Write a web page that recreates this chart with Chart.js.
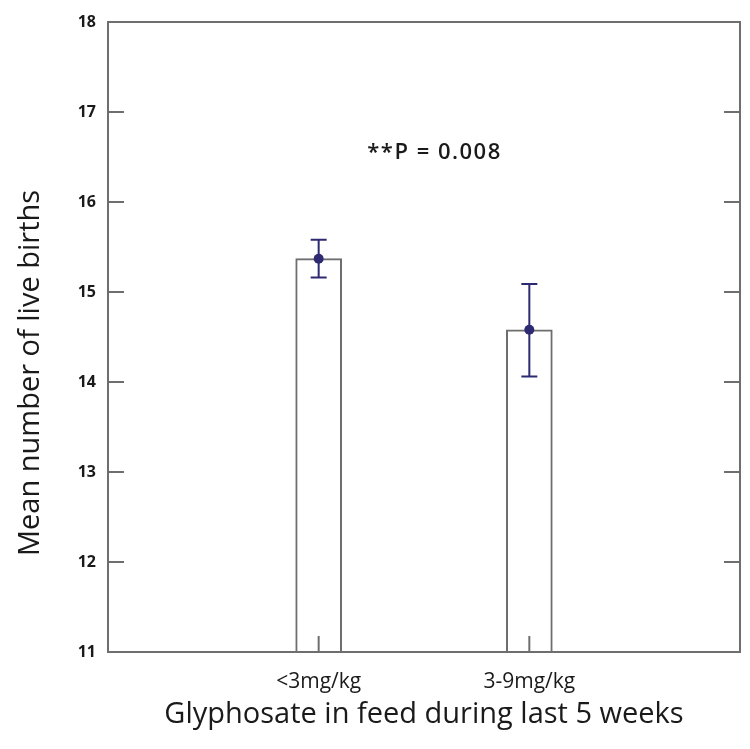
<!DOCTYPE html>
<html>
<head>
<meta charset="utf-8">
<script src="https://cdn.jsdelivr.net/npm/chart.js@4"></script>
<style>
  html, body { margin: 0; padding: 0; background: #fff; }
  #wrap { width: 750px; height: 749px; }
</style>
</head>
<body>
<div id="wrap"><canvas id="births"></canvas></div>
<script>
/* ---------------- DATA ---------------- */
const groups = ["", "<3mg/kg", "3-9mg/kg", ""];
const means = [null, 15.37, 14.58, null];
const errLow = [null, 15.16, 14.06, null];
const errHigh = [null, 15.58, 15.09, null];
const yTicks = [11, 12, 13, 14, 15, 16, 17, 18];
const pText = "**P = 0.008";

const AXIS = "#6e6e6e";
const ERR = "#2d2a72";
const INK = "#1a1a1a";
const FONT = "'Open Sans', Lato, sans-serif";

/* ---------------- FRAME, TICKS, ERROR BARS ---------------- */
const extras = {
  id: "extras",
  afterDatasetsDraw(chart) {
    const { ctx, chartArea: a, scales: { x, y } } = chart;
    ctx.save();

    // box round the plot
    ctx.strokeStyle = AXIS;
    ctx.lineWidth = 2;
    ctx.strokeRect(a.left, a.top, a.right - a.left, a.bottom - a.top);

    // inward tick marks, both sides
    yTicks.forEach(v => {
      const py = y.getPixelForValue(v);
      ctx.beginPath();
      ctx.moveTo(a.left, py); ctx.lineTo(a.left + 16, py);
      ctx.moveTo(a.right, py); ctx.lineTo(a.right - 16, py);
      ctx.stroke();
    });
    groups.forEach((g, i) => {
      if (!g) return;
      const px = x.getPixelForValue(i);
      ctx.beginPath();
      ctx.moveTo(px, a.bottom); ctx.lineTo(px, a.bottom - 16);
      ctx.stroke();
    });

    // error bars
    ctx.strokeStyle = ERR;
    ctx.fillStyle = ERR;
    ctx.lineWidth = 2;
    means.forEach((m, i) => {
      if (m == null) return;
      const px = x.getPixelForValue(i);
      const lo = y.getPixelForValue(errLow[i]);
      const hi = y.getPixelForValue(errHigh[i]);
      ctx.beginPath();
      ctx.moveTo(px, lo); ctx.lineTo(px, hi);
      ctx.moveTo(px - 8, lo); ctx.lineTo(px + 8, lo);
      ctx.moveTo(px - 8, hi); ctx.lineTo(px + 8, hi);
      ctx.stroke();
      ctx.beginPath();
      ctx.arc(px, y.getPixelForValue(m), 5, 0, Math.PI * 2);
      ctx.fill();
    });

    // p value note
    ctx.fillStyle = INK;
    ctx.font = "600 22px " + FONT;
    ctx.textAlign = "center";
    ctx.textBaseline = "middle";
    ctx.letterSpacing = "1.5px";
    ctx.fillText(pText, x.getPixelForValue(1.55), y.getPixelForValue(16.55));
    ctx.letterSpacing = "0px";

    // y axis title
    ctx.translate(31, 373);
    ctx.rotate(-Math.PI / 2);
    ctx.font = "29px " + FONT;
    ctx.fillText("Mean number of live births", 0, 0);
    ctx.restore();
  }
};

/* ---------------- CHART ---------------- */
new Chart(document.getElementById("births"), {
  type: "bar",
  data: {
    labels: groups,
    datasets: [{
      data: means,
      backgroundColor: "#ffffff",
      borderColor: AXIS,
      borderWidth: 2,
      barThickness: 46
    }]
  },
  options: {
    responsive: true,
    maintainAspectRatio: false,
    animation: false,
    layout: { padding: { top: 22, right: 10, left: 0, bottom: 0 } },
    plugins: { legend: { display: false }, tooltip: { enabled: false } },
    scales: {
      x: {
        offset: false,
        grid: { display: false, drawTicks: true, tickLength: 10 },
        border: { display: false },
        ticks: { color: INK, font: { family: FONT, size: 21 }, padding: 7, maxRotation: 0, autoSkip: false },
        title: {
          display: true,
          text: "Glyphosate in feed during last 5 weeks",
          color: INK,
          font: { family: FONT, size: 29 },
          padding: { top: 0, bottom: 17 }
        },
        afterFit: s => { s.height = 97; }
      },
      y: {
        min: 11,
        max: 18,
        grid: { display: false, drawTicks: false },
        border: { display: false },
        ticks: { stepSize: 1, color: INK, font: { family: FONT, size: 16, weight: "bold" }, padding: 12 },
        afterFit: s => { s.width = 108; }
      }
    }
  },
  plugins: [extras]
});
</script>
</body>
</html>
